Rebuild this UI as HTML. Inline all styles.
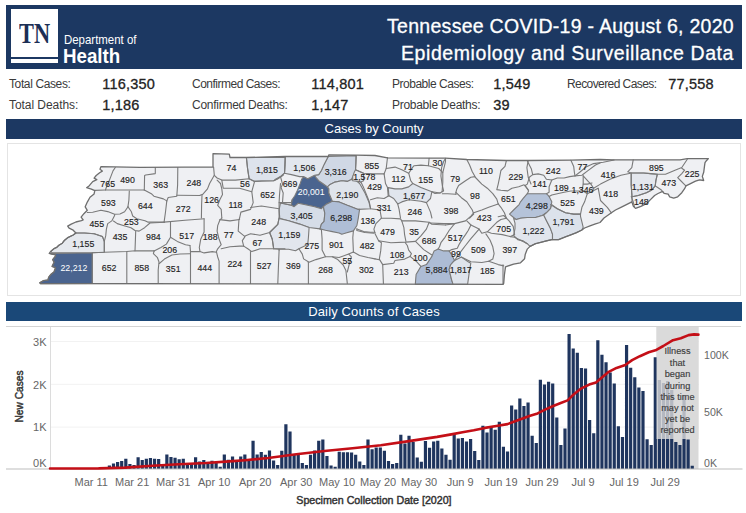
<!DOCTYPE html>
<html><head><meta charset="utf-8">
<style>
*{margin:0;padding:0;box-sizing:border-box}
html,body{width:746px;height:513px;overflow:hidden;background:#fff;font-family:"Liberation Sans",sans-serif}
.a{position:absolute;white-space:nowrap}
#hdr{left:6px;top:5px;width:736px;height:64px;background:#1c3862}
#logo{left:11px;top:9px;width:47px;height:54px;background:#fff}
#logoline{left:11px;top:57px;width:47px;height:2px;background:#1c3862}
#tn{left:18.5px;top:18px;font-family:"Liberation Serif",serif;font-weight:bold;font-size:28.5px;color:#1c2f55;transform:scaleX(0.785);transform-origin:0 0;line-height:32px}
#dept{left:63.5px;top:32px;font-size:13px;color:#fff;transform:scaleX(0.88);transform-origin:0 0;line-height:16px}
#health{left:63px;top:45px;font-size:19.5px;font-weight:bold;color:#fff;transform:scaleX(0.96);transform-origin:0 0;line-height:22px}
.ttl{color:#fff;font-size:19.5px;line-height:22px;right:12px;-webkit-text-stroke:0.3px #fff}
.lbl{font-size:12px;color:#3a3a3a;line-height:14px}
.num{font-size:14.5px;letter-spacing:0.2px;color:#222;line-height:16px;-webkit-text-stroke:0.3px #222}
.bar{left:6px;width:736px;height:20px;color:#fff;font-size:13px;text-align:center;line-height:20px}
</style></head><body>
<div class="a" id="hdr"></div>
<div class="a" id="logo"></div>
<div class="a" id="logoline"></div>
<div class="a" id="tn">TN</div>
<div class="a" id="dept">Department of</div>
<div class="a" id="health">Health</div>
<div class="a ttl" style="top:15.3px;letter-spacing:0.28px">Tennessee COVID-19 - August 6, 2020</div>
<div class="a ttl" style="top:42.3px;letter-spacing:0.58px">Epidemiology and Surveillance Data</div>

<div class="a lbl" style="left:9px;top:77px;letter-spacing:-0.38px">Total Cases:</div>
<div class="a lbl" style="left:9px;top:98px;letter-spacing:-0.06px">Total Deaths:</div>
<div class="a num" style="left:102.3px;top:75.7px">116,350</div>
<div class="a num" style="left:102.3px;top:96.7px">1,186</div>
<div class="a lbl" style="left:192px;top:77px;letter-spacing:-0.5px">Confirmed Cases:</div>
<div class="a lbl" style="left:192px;top:98px;letter-spacing:-0.26px">Confirmed Deaths:</div>
<div class="a num" style="left:311.3px;top:75.7px">114,801</div>
<div class="a num" style="left:311.3px;top:96.7px">1,147</div>
<div class="a lbl" style="left:392px;top:77px;letter-spacing:-0.48px">Probable Cases:</div>
<div class="a lbl" style="left:392px;top:98px;letter-spacing:-0.28px">Probable Deaths:</div>
<div class="a num" style="left:493.3px;top:75.7px">1,549</div>
<div class="a num" style="left:493.3px;top:96.7px">39</div>
<div class="a lbl" style="left:567px;top:77px;letter-spacing:-0.58px">Recovered Cases:</div>
<div class="a num" style="left:668.3px;top:75.7px">77,558</div>

<div class="a bar" style="top:119px;background:#1c3862">Cases by County</div>
<div class="a" style="left:7px;top:143px;width:734px;height:153px;border:1px solid #e4e4e4"></div>

<div class="a bar" style="top:302px;height:19px;line-height:19px;background:#1a4878;letter-spacing:0.14px">Daily Counts of Cases</div>
<div class="a" style="left:6px;top:326px;width:735px;height:1px;background:#d4d4d4"></div>

<svg class="a" style="left:0;top:0" width="746" height="513" viewBox="0 0 746 513" font-family="Liberation Sans, sans-serif">
<polygon points="100.9,166.6 140.0,167.3 185.0,167.1 213.0,167.1 213.0,153.7 229.3,154.1 230.0,157.5 246.4,157.5 285.0,156.5 328.2,156.5 328.9,154.8 356.2,155.2 375.0,155.5 387.5,157.8 429.1,158.2 445.5,158.2 466.8,159.5 506.4,160.5 528.2,160.5 570.9,160.2 600.0,159.5 614.1,159.8 633.2,159.8 680.0,159.8 687.3,158.6 708.4,158.6 706.4,160.7 705.0,162.7 704.4,166.8 703.7,172.3 702.3,176.4 703.7,180.5 699.6,179.8 695.5,181.2 690.0,183.9 685.9,185.9 684.6,188.7 681.8,192.7 677.7,196.8 673.7,198.2 669.6,196.8 668.2,194.1 664.1,193.4 662.7,191.4 658.0,193.5 654.6,195.5 650.5,199.6 646.4,203.7 640.9,206.4 635.5,208.4 633.4,206.4 631.8,201.8 626.4,204.6 620.9,207.3 615.5,210.0 611.4,212.8 604.0,218.0 600.0,222.5 600.0,222.5 595.5,223.9 590.0,225.9 584.6,228.0 581.9,230.0 576.4,232.7 570.9,234.8 565.5,236.8 558.7,239.6 551.8,239.6 546.4,240.9 540.9,242.3 535.5,243.7 530.0,246.4 527.3,249.1 525.2,254.6 524.6,258.7 520.5,262.8 513.6,264.1 505.5,266.8 504.4,275.0 503.7,283.4 503.0,284.4 40.5,283.5 39.8,282.8 43.2,280.7 48.0,280.0 48.6,277.3 50.7,274.6 54.1,271.8 55.5,267.7 52.1,266.4 54.1,262.3 52.7,259.6 55.5,256.2 55.5,254.8 52.1,254.1 49.3,253.4 50.7,251.4 54.1,248.6 56.8,247.3 58.9,245.2 62.3,243.2 64.3,240.5 67.7,237.7 73.2,235.0 75.9,233.0 73.2,230.2 69.1,228.2 67.7,226.1 71.2,224.1 75.9,222.0 81.4,220.7 83.2,219.8 81.1,217.1 83.9,213.7 87.3,210.3 85.2,206.8 87.3,202.1 90.0,197.3 94.1,193.9 94.8,190.7 91.4,189.1 86.6,187.7 89.3,185.7 92.7,181.6 96.8,179.6 94.1,178.2 96.2,175.5 99.6,172.7 102.3,171.1 100.0,169.3 100.9,166.6" fill="#eff0f3" stroke="none"/>
<polygon points="92.3,252.7 92.3,283.5 40.5,283.6 39.8,282.8 43.2,280.7 48.0,280.0 48.6,277.3 50.7,274.6 54.1,271.8 55.5,267.7 52.1,266.4 54.1,262.3 52.7,259.6 55.5,256.2 55.5,254.8 52.1,254.1 49.3,253.4" fill="#4a648f" stroke="#7a7a7a" stroke-width="1.1" stroke-linejoin="round"/>
<polygon points="303.6,176.6 307.7,178.7 314.6,175.3 315.9,177.3 318.7,180.7 322.7,183.5 327.5,186.9 328.9,188.9 328.9,193.0 330.9,197.8 332.3,201.2 326.8,203.9 323.4,206.7 321.4,208.7 314.6,206.7 307.7,205.3 298.2,203.3 294.1,206.7 291.4,205.3 292.1,199.8 294.8,195.7 297.5,190.3 300.2,183.5 301.6,179.4" fill="#4a648f" stroke="#7a7a7a" stroke-width="1.1" stroke-linejoin="round"/>
<polygon points="328.2,156.5 356.2,155.6 355.5,171.2 351.4,179.4 347.3,181.4 341.8,180.7 335.0,182.1 329.6,184.8 327.5,186.9 322.7,183.5 318.7,180.7 315.9,177.3 314.6,175.3 318.7,174.6 321.4,170.5 324.1,164.4" fill="#d0d8e5" stroke="#7a7a7a" stroke-width="1.1" stroke-linejoin="round"/>
<polygon points="327.5,186.9 329.6,184.8 335.0,182.1 341.8,180.7 347.3,181.4 351.4,179.4 355.5,180.1 359.6,183.5 365.0,193.0 369.1,202.6 370.5,208.7 358.2,209.4 347.3,205.3 339.1,201.9 332.3,201.2 330.9,197.8 328.9,193.0 328.9,188.9" fill="#dfe4eb" stroke="#7a7a7a" stroke-width="1.1" stroke-linejoin="round"/>
<polygon points="285.2,156.5 328.2,156.5 324.1,164.4 321.4,170.5 318.7,174.6 314.6,175.3 307.7,178.7 303.6,176.6 299.6,176.6 291.4,174.6 284.5,173.2" fill="#e3e7ee" stroke="#7a7a7a" stroke-width="1.1" stroke-linejoin="round"/>
<polygon points="280.5,203.0 291.4,205.3 294.1,206.7 298.2,203.3 307.7,205.3 314.6,206.7 321.4,208.7 323.4,206.7 324.8,213.2 324.1,221.4 321.4,224.1 320.0,228.9 309.1,227.5 299.6,224.1 288.6,220.7 279.8,218.6 279.1,210.0" fill="#d6dde8" stroke="#7a7a7a" stroke-width="1.1" stroke-linejoin="round"/>
<polygon points="323.4,206.7 326.8,203.9 332.3,201.2 339.1,201.9 347.3,205.3 358.2,209.4 359.6,209.2 358.2,218.6 356.9,225.5 353.4,230.9 345.9,233.0 341.8,234.3 339.1,233.0 332.3,231.6 325.5,230.2 320.0,228.9 321.4,224.1 324.1,221.4 324.8,213.2" fill="#afbed6" stroke="#7a7a7a" stroke-width="1.1" stroke-linejoin="round"/>
<polygon points="279.1,218.0 279.8,218.6 288.6,220.7 299.6,224.1 309.1,227.5 308.4,237.7 307.7,244.6 298.9,248.7 295.5,250.7 288.6,249.3 279.1,249.3 273.7,248.8 272.3,239.3 269.6,232.5 277.8,224.3" fill="#e2e6ee" stroke="#7a7a7a" stroke-width="1.1" stroke-linejoin="round"/>
<polygon points="388.2,187.6 395.0,188.9 401.8,188.9 408.7,186.9 412.8,183.5 420.9,187.6 431.9,191.7 430.5,198.5 426.4,202.6 420.9,201.2 408.7,199.8 401.8,201.9 397.7,203.9 393.7,198.5 388.9,195.7" fill="#e0e5ed" stroke="#7a7a7a" stroke-width="1.1" stroke-linejoin="round"/>
<polygon points="355.5,169.8 354.1,172.6 352.7,176.6 352.7,180.7 358.2,181.4 360.9,182.1 363.6,180.7 363.6,173.2" fill="#e6e9ef" stroke="#7a7a7a" stroke-width="1.1" stroke-linejoin="round"/>
<polygon points="438.2,248.9 443.6,250.9 449.1,250.9 451.8,255.0 454.6,260.5 453.2,261.8 450.5,265.0 449.1,269.7 451.5,279.3 453.1,284.3 415.3,284.2 416.1,274.5 420.9,266.4 426.4,264.6 431.9,256.4 434.1,250.9" fill="#adbcd5" stroke="#7a7a7a" stroke-width="1.1" stroke-linejoin="round"/>
<polygon points="454.6,260.5 461.4,257.1 468.2,261.8 470.8,263.2 469.2,272.9 467.6,284.3 453.1,284.3 451.5,279.3 449.1,269.7 450.5,265.0 453.2,261.8" fill="#dfe4ec" stroke="#7a7a7a" stroke-width="1.1" stroke-linejoin="round"/>
<polygon points="527.3,193.7 535.5,193.7 546.4,193.7 549.1,196.4 551.8,201.8 550.5,208.7 546.4,212.8 542.3,215.5 535.5,217.5 527.3,217.5 520.5,218.2 516.4,219.6 513.6,217.5 509.5,214.1 513.6,210.0 519.1,204.6 520.5,201.8 523.2,198.4" fill="#b5c3d9" stroke="#7a7a7a" stroke-width="1.1" stroke-linejoin="round"/>
<polygon points="513.6,218.4 516.4,219.6 520.5,218.2 527.3,217.5 535.5,217.5 542.3,215.5 543.7,215.0 546.4,220.5 550.5,228.6 552.5,234.1 552.5,239.6 551.8,239.6 546.4,240.9 540.9,242.3 535.5,243.7 530.0,246.4 527.3,243.7 523.2,240.9 517.7,239.6 513.6,235.5 515.0,228.6 515.0,223.2" fill="#e1e5ed" stroke="#7a7a7a" stroke-width="1.1" stroke-linejoin="round"/>
<polygon points="543.7,215.0 546.4,212.8 550.5,208.7 551.8,204.6 557.3,208.7 565.5,212.8 573.7,214.1 580.5,214.1 580.5,216.4 581.9,221.8 583.2,227.3 581.9,230.0 576.4,232.7 570.9,234.8 565.5,236.8 558.7,239.6 552.5,239.6 552.5,234.1 550.5,228.6 546.4,220.5" fill="#dce2eb" stroke="#7a7a7a" stroke-width="1.1" stroke-linejoin="round"/>
<polygon points="246.4,157.5 285.2,157.2 284.9,165.0 284.5,173.2 280.5,176.6 277.8,178.7 273.7,180.7 262.0,181.0 254.6,181.4 249.1,178.7 247.5,168.0" fill="#dde3ec" stroke="#7a7a7a" stroke-width="1.1" stroke-linejoin="round"/>
<polygon points="631.2,173.0 643.6,173.0 650.5,173.6 657.3,174.3 655.9,180.5 655.2,185.9 651.8,190.0 646.4,192.7 638.2,195.5 632.0,196.8 631.2,185.0" fill="#e4e7ed" stroke="#7a7a7a" stroke-width="1.1" stroke-linejoin="round"/>
<polygon points="75.9,233.0 73.2,235.0 67.7,237.7 64.3,240.5 62.3,243.2 58.9,245.2 56.8,247.3 54.1,248.6 50.7,251.4 52.0,252.7 92.3,252.7 104.3,252.3 104.3,241.4 102.4,236.4 94.2,233.7 84.6,233.0" fill="#e6e9ee" stroke="#7a7a7a" stroke-width="1.1" stroke-linejoin="round"/>
<g fill="none" stroke="#7a7a7a" stroke-width="1.1" stroke-linejoin="round" stroke-linecap="round"><polyline points="115.3,167.5 113.0,170.9 110.9,176.4 108.2,183.2 106.1,188.0 105.5,190.0"/><polyline points="94.8,190.4 105.5,190.0 144.3,190.0"/><polyline points="155.3,167.5 155.3,173.6 145.7,175.0 144.6,175.5 144.3,190.0"/><polyline points="144.3,190.0 151.8,194.1 153.9,196.2 163.4,198.9 166.8,200.9"/><polyline points="177.8,167.5 177.6,185.0 176.8,196.2 168.2,197.5 166.8,200.9"/><polyline points="166.8,200.9 165.5,212.0 164.1,222.1"/><polyline points="176.8,195.3 200.0,195.5"/><polyline points="129.3,191.0 128.9,200.0 128.0,206.4"/><polyline points="128.0,206.8 124.6,211.8 120.0,214.0 114.6,214.3 107.7,211.6 100.9,210.3 92.7,212.3 87.3,212.5"/><polyline points="128.0,206.8 131.4,211.8 132.7,216.0 136.8,218.7 145.0,220.7 147.7,222.1 164.1,222.1"/><polyline points="114.6,214.5 114.6,215.5 111.8,220.9 107.7,223.6 106.4,229.1 105.7,235.9 104.3,241.4 104.3,251.6"/><polyline points="75.9,233.0 84.6,233.0 94.2,233.7 102.4,236.4 104.3,241.4"/><polyline points="113.5,221.0 117.3,223.6 124.1,225.7 131.0,227.7 135.0,230.5 139.1,231.1 144.6,227.7 150.0,223.0 164.4,222.3"/><polyline points="135.7,231.1 135.4,240.0 135.0,250.8"/><polyline points="170.5,222.3 170.5,237.3 166.4,244.1 160.9,247.5 154.1,250.9"/><polyline points="92.3,252.7 104.3,252.3 126.8,251.5 135.0,250.8 154.1,250.9"/><polyline points="92.3,252.7 92.3,283.4"/><polyline points="126.8,251.5 126.8,283.4"/><polyline points="154.1,250.9 153.4,253.7 157.5,257.7 159.0,262.0 158.2,270.0 158.2,283.4"/><polyline points="159.3,263.5 164.4,259.1 171.9,255.0 180.0,254.0 190.0,253.7"/><polyline points="170.5,237.3 177.3,241.4 185.5,244.8 190.0,245.5"/><polyline points="213.6,167.1 214.3,175.3 217.1,178.0 221.8,180.1 235.5,180.1 249.1,178.7 254.6,181.4 262.0,181.0 273.7,180.7 277.8,178.7 283.2,175.3"/><polyline points="246.4,157.5 247.5,168.0 249.1,178.7"/><polyline points="221.8,180.1 223.2,188.2 239.6,188.2 251.8,191.7"/><polyline points="254.6,181.4 251.8,191.7 253.2,202.6 250.5,209.4 240.9,212.1 239.6,218.0"/><polyline points="214.3,175.3 212.3,178.7 209.6,183.5 207.5,188.9 202.7,194.4 200.0,195.2"/><polyline points="202.0,195.2 201.6,205.0 201.4,218.0"/><polyline points="217.1,180.1 220.5,183.5 221.8,188.9 222.5,194.4 219.8,199.8 217.7,205.3 221.2,209.4 221.8,218.0"/><polyline points="250.5,207.5 261.4,206.0 279.1,208.7"/><polyline points="280.5,183.5 279.5,195.0 279.1,202.6 279.1,218.0"/><polyline points="164.1,222.1 185.0,220.2 201.4,219.0 204.1,218.8"/><polyline points="204.1,218.8 204.1,232.0 200.7,239.3 199.3,247.5 200.0,251.6 204.1,252.9 212.3,251.6 216.4,252.2"/><polyline points="190.0,245.5 190.5,251.6 200.0,251.6"/><polyline points="190.5,251.6 190.5,283.4"/><polyline points="221.8,218.0 219.8,220.2 217.7,225.6 217.1,231.1 219.1,239.3 221.2,244.7 217.7,248.8 216.4,251.6 217.7,257.0 219.1,261.1 219.1,283.4"/><polyline points="219.8,219.6 230.0,220.9 239.6,219.5"/><polyline points="221.2,248.8 230.0,246.8 239.6,246.1 243.7,246.1 247.8,248.8 251.8,251.6 260.0,248.8 273.7,248.8 285.0,248.8"/><polyline points="239.6,218.0 238.9,220.2 238.2,231.1 245.0,236.6 242.3,240.6 243.7,246.1"/><polyline points="245.0,235.9 250.5,233.8 260.0,235.2 269.6,232.5 277.8,224.3 279.1,218.0"/><polyline points="269.6,232.5 272.3,239.3 273.7,248.8"/><polyline points="250.5,251.6 250.5,283.4"/><polyline points="279.1,250.2 278.5,265.0 277.8,283.4"/><polyline points="283.2,156.5 285.2,156.5 284.9,165.0 284.5,173.2 280.5,176.6 275.0,179.4"/><polyline points="280.5,176.6 282.5,184.2 281.1,187.6 283.2,193.0 282.5,202.6 291.4,202.6 292.1,199.8"/><polyline points="279.1,202.6 282.5,202.6"/><polyline points="291.4,205.3 280.5,203.0"/><polyline points="320.0,228.9 321.4,229.6 322.1,239.1 322.1,250.0 325.5,256.8"/><polyline points="298.9,248.7 302.3,254.1 303.6,258.9 309.1,262.3 315.9,259.6 325.5,256.8 332.3,256.8 339.1,257.5 348.7,254.1 353.4,252.1"/><polyline points="353.4,230.9 352.8,237.7 353.4,252.1"/><polyline points="308.4,262.3 308.4,283.4"/><polyline points="279.1,249.3 279.1,250.2"/><polyline points="332.3,256.8 337.8,259.6 343.2,265.0 345.9,270.5 347.3,283.4"/><polyline points="348.7,254.1 351.4,256.8 349.4,263.7 347.3,272.0"/><polyline points="353.4,252.1 359.6,255.5 368.0,257.5 375.0,258.9"/><polyline points="356.9,228.9 363.7,231.6 370.5,232.3 375.0,232.3"/><polyline points="356.1,155.6 355.9,163.0 355.5,169.8 363.6,173.2 373.2,173.9 384.1,173.9"/><polyline points="387.5,157.5 386.2,168.5 384.1,173.9"/><polyline points="360.9,182.1 363.6,187.6 366.4,194.4 369.1,201.2 370.5,208.0"/><polyline points="370.5,199.8 377.3,197.8 384.1,198.5 388.9,195.7"/><polyline points="384.1,173.9 385.5,183.5 387.5,187.6 388.2,195.7"/><polyline points="386.2,168.5 395.0,167.1 401.8,169.8 408.7,173.2 410.7,180.7 412.8,183.5"/><polyline points="408.7,173.2 412.8,167.1 414.1,165.7 420.9,165.1 428.4,165.7 429.1,158.2"/><polyline points="428.4,165.7 438.7,168.5 442.8,172.6 442.8,182.1 442.1,191.7 440.0,193.0 431.9,191.7"/><polyline points="445.5,158.2 445.5,161.6 442.8,172.6"/><polyline points="397.7,203.9 399.1,209.4 400.5,218.0"/><polyline points="426.4,202.6 430.5,212.1 431.9,218.0"/><polyline points="431.9,191.7 435.0,193.5 440.0,193.0"/><polyline points="370.5,208.7 380.0,210.0 381.4,218.2 375.9,223.6 373.9,229.1 375.2,233.9 378.6,240.7"/><polyline points="356.9,228.9 356.8,230.5 365.0,232.5 373.9,233.2"/><polyline points="381.4,218.2 390.9,218.2 400.5,218.9 401.8,220.9 403.9,227.7 404.6,234.6 405.9,241.4"/><polyline points="378.6,240.7 390.9,242.7 405.9,242.1 415.5,241.4"/><polyline points="378.6,240.7 381.4,242.7 380.7,250.9 379.3,259.1 382.7,264.6 383.4,283.4"/><polyline points="375.0,258.9 379.3,259.8"/><polyline points="382.7,264.6 393.7,263.2 395.0,260.5 404.6,259.1 410.0,256.4 411.4,253.7 408.7,250.2 407.3,245.5 405.3,242.7"/><polyline points="401.8,220.9 415.5,220.9 429.1,222.3 426.4,229.1 420.9,235.9 415.5,241.4 423.7,249.6 431.9,255.0"/><polyline points="429.1,222.3 431.9,224.3 445.5,225.0"/><polyline points="445.0,159.3 443.6,161.6 441.6,167.7 440.9,175.9 442.3,185.5 443.6,190.9 442.1,191.7"/><polyline points="442.3,193.7 447.7,193.7 455.9,194.3"/><polyline points="466.8,159.5 469.6,165.0 472.3,171.8 475.0,176.6 470.9,177.3 465.5,180.7 458.6,185.5 456.6,189.6 455.9,192.3 455.9,194.3"/><polyline points="475.0,177.0 481.8,184.1 487.3,188.2 492.8,193.7 496.8,199.1 498.2,203.9"/><polyline points="455.9,192.3 461.4,197.7 466.8,201.8 472.3,210.0 473.7,214.1 469.6,218.2"/><polyline points="473.7,212.8 481.8,210.0 488.7,207.3 498.2,203.9"/><polyline points="506.4,160.5 505.0,166.4 500.9,170.5 499.6,177.3 498.2,184.1 496.8,189.6 500.9,190.2 507.8,190.9 511.9,188.2 518.7,186.8 524.1,184.8 528.2,189.6"/><polyline points="528.2,160.5 526.9,167.7 528.2,177.3 531.0,184.0"/><polyline points="498.2,203.9 500.9,207.3 504.4,212.8 506.4,218.2"/><polyline points="430.0,223.0 443.6,223.6 454.6,223.6 465.5,220.9 470.9,216.1 473.7,212.8"/><polyline points="445.5,225.0 454.6,223.6"/><polyline points="454.6,223.6 449.1,230.5 445.0,237.3 440.9,242.7 439.5,246.8 438.2,248.9"/><polyline points="466.8,220.9 470.9,225.0 468.2,230.5 465.5,234.6 462.7,238.6 459.3,244.1 457.3,248.2 451.8,249.6 449.1,250.9"/><polyline points="470.9,225.0 479.1,229.1 470.9,238.6 465.5,245.5 461.4,250.9 457.3,256.4 454.6,260.5"/><polyline points="479.1,229.1 481.8,233.2 487.3,231.8 492.8,226.4 496.8,222.3 500.9,219.5 506.4,218.2"/><polyline points="485.9,233.9 490.0,240.0 492.8,246.8 494.1,253.7 492.8,259.1 488.7,261.2"/><polyline points="461.4,257.1 470.9,261.8 481.8,262.5 488.7,261.2 498.2,264.6 503.7,265.9"/><polyline points="487.3,231.8 491.4,233.2 502.3,234.6 510.5,236.6 514.6,237.3 520.0,240.0 525.5,242.7"/><polyline points="498.2,216.8 503.7,215.5 509.1,220.9 513.2,226.4 514.6,234.6 510.5,236.6"/><polyline points="527.3,160.6 528.6,163.6 531.4,169.1 532.7,174.6 529.3,177.3 527.3,184.1 525.2,185.5 528.6,190.9 527.3,193.7"/><polyline points="532.7,174.6 538.2,173.9 543.7,175.2 546.4,179.3 551.8,180.0 549.1,186.8 549.1,192.3 546.4,193.7"/><polyline points="570.9,160.2 573.7,166.4 574.4,172.5 575.0,175.9"/><polyline points="551.8,180.0 557.3,178.0 564.1,178.0 569.6,176.6 575.0,175.9 581.9,175.2 587.3,171.1 595.5,165.0 600.0,163.0"/><polyline points="549.1,196.4 551.8,195.0 557.3,193.7 564.1,192.3 570.9,191.0 583.2,191.0 587.3,193.7"/><polyline points="583.2,175.9 583.2,184.1 581.9,191.0"/><polyline points="587.3,193.7 584.6,201.8 581.9,207.3 580.5,214.1"/><polyline points="550.5,204.6 557.3,208.7 565.5,212.8 573.7,214.1 580.5,214.1"/><polyline points="587.3,193.7 592.8,191.0 598.2,188.2"/><polyline points="583.2,184.1 587.3,184.1 592.0,183.0"/><polyline points="525.5,242.7 527.3,243.7"/><polyline points="575.0,175.9 580.0,172.0 586.0,167.0 593.6,163.6 603.2,162.3 614.1,160.0"/><polyline points="583.2,175.9 588.2,181.4 590.9,184.1 593.6,188.2"/><polyline points="593.6,188.2 600.5,184.1 610.0,179.3 620.9,175.2 630.5,173.2"/><polyline points="592.8,191.0 593.6,188.2"/><polyline points="631.2,196.4 633.2,201.8 634.6,207.3"/><polyline points="598.2,188.2 600.5,200.5 607.3,207.3 611.4,212.8"/><polyline points="633.2,159.8 631.8,167.7 627.7,171.8 631.2,173.0 643.6,173.0 650.5,173.6 657.3,174.3 665.5,174.3 675.0,170.2 681.8,167.5 687.3,159.3"/><polyline points="681.8,168.2 684.6,170.2 681.8,173.6 677.7,177.7 680.5,180.5 684.6,184.6 685.9,185.9"/><polyline points="657.3,174.3 655.9,180.5 655.2,185.9 657.3,187.3 661.4,190.0 662.7,192.0"/><polyline points="631.2,173.0 631.2,185.0 632.0,196.8 638.2,195.5 646.4,192.7 651.8,190.0 655.2,185.9"/><polyline points="632.0,196.8 632.0,201.5"/><polyline points="410.0,256.4 416.8,261.8 420.9,266.4"/><polyline points="503.0,264.8 503.0,284.4"/></g>
<polygon points="100.9,166.6 140.0,167.3 185.0,167.1 213.0,167.1 213.0,153.7 229.3,154.1 230.0,157.5 246.4,157.5 285.0,156.5 328.2,156.5 328.9,154.8 356.2,155.2 375.0,155.5 387.5,157.8 429.1,158.2 445.5,158.2 466.8,159.5 506.4,160.5 528.2,160.5 570.9,160.2 600.0,159.5 614.1,159.8 633.2,159.8 680.0,159.8 687.3,158.6 708.4,158.6 706.4,160.7 705.0,162.7 704.4,166.8 703.7,172.3 702.3,176.4 703.7,180.5 699.6,179.8 695.5,181.2 690.0,183.9 685.9,185.9 684.6,188.7 681.8,192.7 677.7,196.8 673.7,198.2 669.6,196.8 668.2,194.1 664.1,193.4 662.7,191.4 658.0,193.5 654.6,195.5 650.5,199.6 646.4,203.7 640.9,206.4 635.5,208.4 633.4,206.4 631.8,201.8 626.4,204.6 620.9,207.3 615.5,210.0 611.4,212.8 604.0,218.0 600.0,222.5 600.0,222.5 595.5,223.9 590.0,225.9 584.6,228.0 581.9,230.0 576.4,232.7 570.9,234.8 565.5,236.8 558.7,239.6 551.8,239.6 546.4,240.9 540.9,242.3 535.5,243.7 530.0,246.4 527.3,249.1 525.2,254.6 524.6,258.7 520.5,262.8 513.6,264.1 505.5,266.8 504.4,275.0 503.7,283.4 503.0,284.4 40.5,283.5 39.8,282.8 43.2,280.7 48.0,280.0 48.6,277.3 50.7,274.6 54.1,271.8 55.5,267.7 52.1,266.4 54.1,262.3 52.7,259.6 55.5,256.2 55.5,254.8 52.1,254.1 49.3,253.4 50.7,251.4 54.1,248.6 56.8,247.3 58.9,245.2 62.3,243.2 64.3,240.5 67.7,237.7 73.2,235.0 75.9,233.0 73.2,230.2 69.1,228.2 67.7,226.1 71.2,224.1 75.9,222.0 81.4,220.7 83.2,219.8 81.1,217.1 83.9,213.7 87.3,210.3 85.2,206.8 87.3,202.1 90.0,197.3 94.1,193.9 94.8,190.7 91.4,189.1 86.6,187.7 89.3,185.7 92.7,181.6 96.8,179.6 94.1,178.2 96.2,175.5 99.6,172.7 102.3,171.1 100.0,169.3 100.9,166.6" fill="none" stroke="#6e6e6e" stroke-width="1.3" stroke-linejoin="round"/>
<g font-size="8.8" fill="#1f1f1f" stroke="#1f1f1f" stroke-width="0.15" text-anchor="middle"><text x="107.7" y="186.8">765</text><text x="127.5" y="182.5">490</text><text x="108.4" y="206.2">593</text><text x="145.3" y="209.4">644</text><text x="160.7" y="187.5">363</text><text x="193.9" y="186.0">248</text><text x="183.2" y="212.0">272</text><text x="131.4" y="225.3">253</text><text x="96.8" y="226.8">455</text><text x="120.0" y="239.8">435</text><text x="153.4" y="239.8">984</text><text x="169.8" y="252.8">206</text><text x="109.1" y="271.2">652</text><text x="141.8" y="271.2">858</text><text x="173.2" y="271.9">351</text><text x="186.7" y="239.4">517</text><text x="83.3" y="247.3">1,155</text><text x="231.4" y="171.4">74</text><text x="266.9" y="173.3">1,815</text><text x="245.0" y="187.4">56</text><text x="211.6" y="203.0">126</text><text x="235.5" y="207.8">118</text><text x="267.5" y="198.3">652</text><text x="210.2" y="239.5">188</text><text x="228.7" y="238.4">77</text><text x="258.7" y="225.0">248</text><text x="257.3" y="246.3">67</text><text x="204.8" y="270.9">444</text><text x="234.8" y="267.0">224</text><text x="264.1" y="269.1">527</text><text x="304.3" y="171.4">1,506</text><text x="335.7" y="175.1">3,316</text><text x="290.0" y="187.4">669</text><text x="347.3" y="198.3">2,190</text><text x="371.8" y="168.9">855</text><text x="364.3" y="179.8">1,578</text><text x="374.6" y="190.1">429</text><text x="408.0" y="170.3">71</text><text x="398.4" y="182.3">112</text><text x="425.7" y="183.3">155</text><text x="437.5" y="166.2">30</text><text x="384.1" y="211.2">331</text><text x="414.1" y="199.2">1,677</text><text x="414.8" y="215.0">246</text><text x="301.6" y="219.1">3,405</text><text x="341.2" y="221.2">6,298</text><text x="289.3" y="238.2">1,159</text><text x="311.8" y="249.1">275</text><text x="336.4" y="247.8">901</text><text x="367.8" y="224.3">136</text><text x="367.1" y="249.1">482</text><text x="293.4" y="269.3">369</text><text x="325.5" y="273.0">268</text><text x="347.3" y="264.1">55</text><text x="366.4" y="273.0">302</text><text x="387.5" y="235.3">479</text><text x="414.1" y="235.3">35</text><text x="429.1" y="243.5">686</text><text x="397.1" y="258.2">108</text><text x="420.3" y="261.2">100</text><text x="401.2" y="275.3">213</text><text x="436.6" y="273.2">5,884</text><text x="455.2" y="182.1">79</text><text x="485.9" y="174.3">110</text><text x="515.9" y="180.2">229</text><text x="475.0" y="199.3">98</text><text x="508.4" y="202.3">651</text><text x="451.1" y="214.3">398</text><text x="484.2" y="221.1">423</text><text x="455.2" y="240.5">517</text><text x="455.9" y="256.6">99</text><text x="478.4" y="253.0">509</text><text x="509.8" y="253.0">397</text><text x="503.7" y="231.6">705</text><text x="460.7" y="273.2">1,817</text><text x="487.3" y="274.3">185</text><text x="553.2" y="174.3">242</text><text x="582.5" y="169.6">77</text><text x="539.6" y="187.3">141</text><text x="561.4" y="191.4">189</text><text x="582.5" y="193.4">1,346</text><text x="567.5" y="206.4">525</text><text x="596.4" y="214.3">439</text><text x="533.4" y="234.3">1,222</text><text x="563.4" y="225.3">1,791</text><text x="608.0" y="178.0">416</text><text x="610.7" y="197.1">418</text><text x="656.4" y="171.2">895</text><text x="642.8" y="189.8">1,131</text><text x="641.4" y="205.0">148</text><text x="668.8" y="186.3">473</text><text x="692.1" y="176.6">225</text><text x="536.8" y="208.5">4,298</text></g>
<g font-size="8.8" fill="#fff" text-anchor="middle"><text x="73.9" y="270.9">22,212</text><text x="311.2" y="194.6">20,001</text></g>
<line x1="51" y1="341.5" x2="699" y2="341.5" stroke="#f2f2f2" stroke-width="1"/>
<line x1="51" y1="384.3" x2="699" y2="384.3" stroke="#f2f2f2" stroke-width="1"/>
<line x1="51" y1="427.1" x2="699" y2="427.1" stroke="#f2f2f2" stroke-width="1"/>
<rect x="656.5" y="327" width="42" height="142" fill="#d9d9d9"/>
<path fill="#1f355e" d="M95.49 468.2h3.2V469.0h-3.2zM99.59 468.0h3.2V469.0h-3.2zM103.70 467.6h3.2V469.0h-3.2zM107.80 465.5h3.2V469.0h-3.2zM111.90 463.4h3.2V469.0h-3.2zM116.01 462.0h3.2V469.0h-3.2zM120.11 460.9h3.2V469.0h-3.2zM124.22 458.8h3.2V469.0h-3.2zM128.32 464.0h3.2V469.0h-3.2zM132.43 465.0h3.2V469.0h-3.2zM136.53 457.3h3.2V469.0h-3.2zM140.64 459.9h3.2V469.0h-3.2zM144.74 458.8h3.2V469.0h-3.2zM148.84 458.0h3.2V469.0h-3.2zM152.95 458.7h3.2V469.0h-3.2zM157.05 459.1h3.2V469.0h-3.2zM161.16 464.5h3.2V469.0h-3.2zM165.26 454.5h3.2V469.0h-3.2zM169.37 457.0h3.2V469.0h-3.2zM173.47 457.7h3.2V469.0h-3.2zM177.58 459.3h3.2V469.0h-3.2zM181.68 458.8h3.2V469.0h-3.2zM185.79 464.0h3.2V469.0h-3.2zM189.89 464.0h3.2V469.0h-3.2zM193.99 457.2h3.2V469.0h-3.2zM198.10 461.5h3.2V469.0h-3.2zM202.20 459.9h3.2V469.0h-3.2zM206.31 462.0h3.2V469.0h-3.2zM210.41 460.8h3.2V469.0h-3.2zM214.52 463.0h3.2V469.0h-3.2zM218.62 466.7h3.2V469.0h-3.2zM222.73 454.5h3.2V469.0h-3.2zM226.83 459.7h3.2V469.0h-3.2zM230.94 456.6h3.2V469.0h-3.2zM235.04 460.4h3.2V469.0h-3.2zM239.14 456.6h3.2V469.0h-3.2zM243.25 454.5h3.2V469.0h-3.2zM247.35 461.1h3.2V469.0h-3.2zM251.46 440.7h3.2V469.0h-3.2zM255.56 454.5h3.2V469.0h-3.2zM259.67 452.0h3.2V469.0h-3.2zM263.77 454.8h3.2V469.0h-3.2zM267.88 450.5h3.2V469.0h-3.2zM271.98 460.4h3.2V469.0h-3.2zM276.08 464.9h3.2V469.0h-3.2zM280.19 450.8h3.2V469.0h-3.2zM284.29 424.2h3.2V469.0h-3.2zM288.40 431.6h3.2V469.0h-3.2zM292.50 454.8h3.2V469.0h-3.2zM296.61 454.0h3.2V469.0h-3.2zM300.71 463.0h3.2V469.0h-3.2zM304.82 465.0h3.2V469.0h-3.2zM308.92 454.7h3.2V469.0h-3.2zM313.02 450.5h3.2V469.0h-3.2zM317.13 440.8h3.2V469.0h-3.2zM321.23 439.6h3.2V469.0h-3.2zM325.34 456.0h3.2V469.0h-3.2zM329.44 465.6h3.2V469.0h-3.2zM333.55 466.8h3.2V469.0h-3.2zM337.65 451.7h3.2V469.0h-3.2zM341.76 452.3h3.2V469.0h-3.2zM345.86 452.3h3.2V469.0h-3.2zM349.97 452.6h3.2V469.0h-3.2zM354.07 454.7h3.2V469.0h-3.2zM358.17 461.4h3.2V469.0h-3.2zM362.28 465.0h3.2V469.0h-3.2zM366.38 439.6h3.2V469.0h-3.2zM370.49 449.3h3.2V469.0h-3.2zM374.59 447.6h3.2V469.0h-3.2zM378.70 447.5h3.2V469.0h-3.2zM382.80 450.8h3.2V469.0h-3.2zM386.91 461.1h3.2V469.0h-3.2zM391.01 463.9h3.2V469.0h-3.2zM395.12 462.9h3.2V469.0h-3.2zM399.22 434.8h3.2V469.0h-3.2zM403.32 443.5h3.2V469.0h-3.2zM407.43 435.8h3.2V469.0h-3.2zM411.53 442.1h3.2V469.0h-3.2zM415.64 457.6h3.2V469.0h-3.2zM419.74 461.8h3.2V469.0h-3.2zM423.85 441.0h3.2V469.0h-3.2zM427.95 447.7h3.2V469.0h-3.2zM432.06 441.4h3.2V469.0h-3.2zM436.16 440.7h3.2V469.0h-3.2zM440.26 448.4h3.2V469.0h-3.2zM444.37 454.8h3.2V469.0h-3.2zM448.47 459.7h3.2V469.0h-3.2zM452.58 434.0h3.2V469.0h-3.2zM456.68 438.5h3.2V469.0h-3.2zM460.79 438.0h3.2V469.0h-3.2zM464.89 441.4h3.2V469.0h-3.2zM469.00 439.1h3.2V469.0h-3.2zM473.10 451.0h3.2V469.0h-3.2zM477.20 460.1h3.2V469.0h-3.2zM481.31 425.8h3.2V469.0h-3.2zM485.41 432.6h3.2V469.0h-3.2zM489.52 426.8h3.2V469.0h-3.2zM493.62 429.8h3.2V469.0h-3.2zM497.73 421.8h3.2V469.0h-3.2zM501.83 446.8h3.2V469.0h-3.2zM505.94 451.4h3.2V469.0h-3.2zM510.04 405.4h3.2V469.0h-3.2zM514.15 409.4h3.2V469.0h-3.2zM518.25 398.6h3.2V469.0h-3.2zM522.35 405.9h3.2V469.0h-3.2zM526.46 402.6h3.2V469.0h-3.2zM530.56 435.8h3.2V469.0h-3.2zM534.67 443.0h3.2V469.0h-3.2zM538.77 379.8h3.2V469.0h-3.2zM542.88 384.5h3.2V469.0h-3.2zM546.98 381.7h3.2V469.0h-3.2zM551.09 383.4h3.2V469.0h-3.2zM555.19 417.6h3.2V469.0h-3.2zM559.29 444.9h3.2V469.0h-3.2zM563.40 428.5h3.2V469.0h-3.2zM567.50 334.0h3.2V469.0h-3.2zM571.61 348.6h3.2V469.0h-3.2zM575.71 352.8h3.2V469.0h-3.2zM579.82 367.9h3.2V469.0h-3.2zM583.92 368.5h3.2V469.0h-3.2zM588.03 420.0h3.2V469.0h-3.2zM592.13 433.3h3.2V469.0h-3.2zM596.24 340.2h3.2V469.0h-3.2zM600.34 354.7h3.2V469.0h-3.2zM604.44 362.3h3.2V469.0h-3.2zM608.55 372.5h3.2V469.0h-3.2zM612.65 383.4h3.2V469.0h-3.2zM616.76 426.3h3.2V469.0h-3.2zM620.86 437.1h3.2V469.0h-3.2zM624.97 345.1h3.2V469.0h-3.2zM629.07 367.7h3.2V469.0h-3.2zM633.18 377.3h3.2V469.0h-3.2zM637.28 387.5h3.2V469.0h-3.2zM641.38 391.0h3.2V469.0h-3.2zM645.49 439.2h3.2V469.0h-3.2zM649.59 444.9h3.2V469.0h-3.2zM653.70 357.2h3.2V469.0h-3.2zM657.80 380.0h3.2V469.0h-3.2zM661.91 383.0h3.2V469.0h-3.2zM666.01 381.0h3.2V469.0h-3.2zM670.12 390.0h3.2V469.0h-3.2zM674.22 442.0h3.2V469.0h-3.2zM678.33 445.0h3.2V469.0h-3.2zM682.43 395.0h3.2V469.0h-3.2zM686.53 439.6h3.2V469.0h-3.2zM690.64 465.8h3.2V469.0h-3.2z"/>
<rect x="656.5" y="327" width="42" height="112" fill="#d9d9d9" fill-opacity="0.8"/>
<line x1="50.5" y1="327" x2="50.5" y2="469" stroke="#dcdcdc" stroke-width="1"/>
<line x1="6" y1="469" x2="742.5" y2="469" stroke="#bdbdbd" stroke-width="1"/>
<polyline points="50,468.5 98.6,468.4 125.4,467.6 152.2,465.7 179,464.3 205.9,463 232.7,461.1 245,460.2 268.2,458 296.3,454.3 324.5,451 352.6,448.2 380.8,445.3 408.9,441.1 437.1,436.9 451.3,434.4 462.5,432.2 473.8,430.3 485,427.9 496.3,426 507.6,424.1 515.1,421.3 522.6,418.5 530.1,415.7 537.6,413.4 545.1,409.6 552.6,406.3 560.1,403.3 567.6,400.4 573.6,394.5 581.4,388.3 589.2,384.6 596,382.5 601.9,377.6 608.7,371.8 616.5,367.9 625.3,365 632.1,360.1 639.9,356.2 648.7,352.3 655.5,350.3 663.3,346 673,340.2 680.8,338.3 688.6,335.1 694,334.4 698.4,334.6" fill="none" stroke="#c40f17" stroke-width="2.6" stroke-linejoin="round" stroke-linecap="round"/>
<text x="677.5" y="354" text-anchor="middle" font-size="9.2" fill="#3c3c3c" stroke="#3c3c3c" stroke-width="0.15">Illness</text>
<text x="677.5" y="365.5" text-anchor="middle" font-size="9.2" fill="#3c3c3c" stroke="#3c3c3c" stroke-width="0.15">that</text>
<text x="677.5" y="377" text-anchor="middle" font-size="9.2" fill="#3c3c3c" stroke="#3c3c3c" stroke-width="0.15">began</text>
<text x="677.5" y="388.5" text-anchor="middle" font-size="9.2" fill="#3c3c3c" stroke="#3c3c3c" stroke-width="0.15">during</text>
<text x="677.5" y="400" text-anchor="middle" font-size="9.2" fill="#3c3c3c" stroke="#3c3c3c" stroke-width="0.15">this time</text>
<text x="677.5" y="411" text-anchor="middle" font-size="9.2" fill="#3c3c3c" stroke="#3c3c3c" stroke-width="0.15">may not</text>
<text x="677.5" y="422" text-anchor="middle" font-size="9.2" fill="#3c3c3c" stroke="#3c3c3c" stroke-width="0.15">yet be</text>
<text x="677.5" y="433.3" text-anchor="middle" font-size="9.2" fill="#3c3c3c" stroke="#3c3c3c" stroke-width="0.15">reported</text>
<text x="46.5" y="346" text-anchor="end" font-size="11" fill="#666">3K</text>
<text x="46.5" y="388.6" text-anchor="end" font-size="11" fill="#666">2K</text>
<text x="46.5" y="431.3" text-anchor="end" font-size="11" fill="#666">1K</text>
<text x="46.5" y="466.8" text-anchor="end" font-size="11" fill="#666">0K</text>
<text x="704" y="358.6" font-size="10.6" fill="#666">100K</text>
<text x="704" y="415.6" font-size="10.6" fill="#666">50K</text>
<text x="704" y="466.8" font-size="10.6" fill="#666">0K</text>
<text x="91.2" y="486" text-anchor="middle" font-size="11" fill="#666">Mar 11</text>
<text x="132.2" y="486" text-anchor="middle" font-size="11" fill="#666">Mar 21</text>
<text x="173.2" y="486" text-anchor="middle" font-size="11" fill="#666">Mar 31</text>
<text x="214.2" y="486" text-anchor="middle" font-size="11" fill="#666">Apr 10</text>
<text x="255.2" y="486" text-anchor="middle" font-size="11" fill="#666">Apr 20</text>
<text x="296.2" y="486" text-anchor="middle" font-size="11" fill="#666">Apr 30</text>
<text x="337.1" y="486" text-anchor="middle" font-size="11" fill="#666">May 10</text>
<text x="378.1" y="486" text-anchor="middle" font-size="11" fill="#666">May 20</text>
<text x="419.1" y="486" text-anchor="middle" font-size="11" fill="#666">May 30</text>
<text x="460.1" y="486" text-anchor="middle" font-size="11" fill="#666">Jun 9</text>
<text x="501.1" y="486" text-anchor="middle" font-size="11" fill="#666">Jun 19</text>
<text x="542.1" y="486" text-anchor="middle" font-size="11" fill="#666">Jun 29</text>
<text x="583.1" y="486" text-anchor="middle" font-size="11" fill="#666">Jul 9</text>
<text x="624.1" y="486" text-anchor="middle" font-size="11" fill="#666">Jul 19</text>
<text x="665.1" y="486" text-anchor="middle" font-size="11" fill="#666">Jul 29</text>
<text x="296.3" y="503.6" font-size="11" fill="#333" stroke="#333" stroke-width="0.45" textLength="155.3" lengthAdjust="spacingAndGlyphs">Specimen Collection Date [2020]</text>
<text transform="translate(22.6,422.5) rotate(-90)" font-size="11" fill="#333" stroke="#333" stroke-width="0.45" textLength="52" lengthAdjust="spacingAndGlyphs">New Cases</text>
</svg>
</body></html>
